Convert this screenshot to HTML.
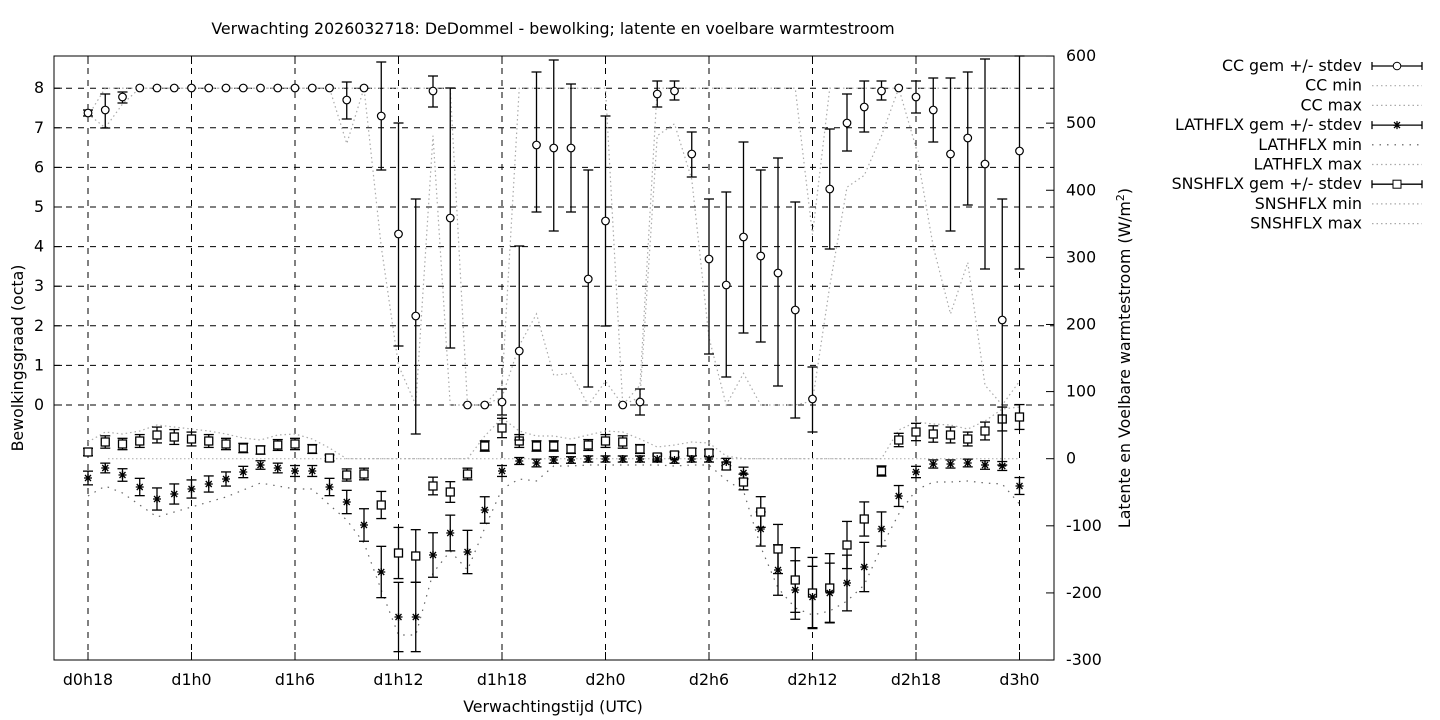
<!DOCTYPE html>
<html><head><meta charset="utf-8"><style>
html,body{margin:0;padding:0;background:#fff;}
svg{display:block;font-family:"DejaVu Sans","Liberation Sans",sans-serif;font-size:15.8px;}
</style></head><body>
<svg id="s" width="1440" height="720" xmlns="http://www.w3.org/2000/svg">
<text x="553" y="34" text-anchor="middle">Verwachting 2026032718: DeDommel - bewolking; latente en voelbare warmtestroom</text>
<text x="553" y="712" text-anchor="middle">Verwachtingstijd (UTC)</text>
<text transform="translate(23,358) rotate(-90)" text-anchor="middle">Bewolkingsgraad (octa)</text>
<text transform="translate(1130,358) rotate(-90)" text-anchor="middle">Latente en Voelbare warmtestroom (W/m<tspan dy="-6" font-size="11">2</tspan><tspan dy="6">)</tspan></text>
</svg>
<script>
const S=document.getElementById('s');const NS='http://www.w3.org/2000/svg';
function el(t,a,txt){const e=document.createElementNS(NS,t);for(const k in a)e.setAttribute(k,a[k]);if(txt!=null)e.textContent=txt;S.appendChild(e);return e;}
const L=54,R=1054,T=56,B=660;
const X=i=>88+17.25*i, YC=v=>405-v*39.6, YF=v=>458.7-v*0.6711;
for(let k=0;k<=8;k++){const y=YC(k);el('line',{x1:L,x2:R,y1:y,y2:y,stroke:'#000','stroke-dasharray':'6,6','stroke-width':1});
 el('line',{x1:L,x2:L+8,y1:y,y2:y,stroke:'#000'});el('text',{x:44,y:y+5,'text-anchor':'end'},k);}
const xl=['d0h18','d1h0','d1h6','d1h12','d1h18','d2h0','d2h6','d2h12','d2h18','d3h0'];
xl.forEach((t,j)=>{const x=X(j*6);el('line',{x1:x,x2:x,y1:T,y2:B,stroke:'#000','stroke-dasharray':'6,6'});
 el('line',{x1:x,x2:x,y1:B,y2:B-8,stroke:'#000'});el('line',{x1:x,x2:x,y1:T,y2:T+8,stroke:'#000'});
 el('text',{x:x,y:685,'text-anchor':'middle'},t);});
for(let v=-300;v<=600;v+=100){const y=YF(v);el('line',{x1:R,x2:R-8,y1:y,y2:y,stroke:'#000'});el('text',{x:1066,y:y+5},v);}
el('rect',{x:L,y:T,width:R-L,height:B-T,fill:'none',stroke:'#000'});
function poly(pts,st,dash){el('polyline',{points:pts.map(p=>p.join(',')).join(' '),fill:'none',stroke:st,'stroke-width':1.2,'stroke-dasharray':dash});}
const cc=[[113,110,116],[110,94,128],[97,92,103]];
for(let i=3;i<=14;i++)cc.push([88]);
cc.push([100,82,119],[88],[116,62,170],[234,123,346],[316,199,434],[91,76,107],[218,88,348],[405],[405],[402,389,415],
[351,246,440],[145,72,212],[148,60,231],[148,84,212],[279,170,387],[221,116,326],[405],[402,389,415],[94,81,107],[91,81,100],
[154,132,177],[259,199,354],[285,192,377],[237,142,333],[256,170,342],[273,158,386],[310,202,418],[399,367,432],[189,129,249],
[123,94,151],[107,81,132],[91,81,100],[88],[97,81,113],[110,78,142],[154,78,231],[138,72,205],[164,59,269],[320,199,465],[151,56,269]);
const ccmax=[7.3,8,8,8,8,8,8,8,8,8,8,8,8,8,8,8,8,8,8,8,8,8,0,0,0.5,8,8,8,8,8,8,0,0.5,8,8,8,8,8,8,8,8,8,4.3,8,8,8,8,8,8,8,8,8,8,8,8];
const ccmin=[7.35,7,7.6,8,8,8,8,8,8,8,8,8,8,8,8,6.6,8,4,1,0,6.8,0,0,0,0.2,1.5,2.3,0.75,0.8,0,0.6,0,0.2,6.8,7.1,5.7,1.7,0,0.8,0,0,0,0.1,3,5.5,5.8,6.8,8,6.5,4,2.3,3.6,0.5,0,0.6];
poly(ccmax.map((v,i)=>[X(i),YC(v)]),'#aaa','1.5,3');
poly(ccmin.map((v,i)=>[X(i),YC(v)]),'#aaa','1.5,3');
const sn=[452,442,444,441,435,437,439,441,444,448,450,445,444,449,458,475,474,505,553,556,486,492,474,446,428,441,446,446,449,445,441,442,449,457,455,452,453,466,482,512,549,580,593,588,545,519,471,440,432,434,435,439,431,419,417];
const la=[478,468,475,487,499,494,489,484,479,472,465,468,471,471,487,502,525,572,617,617,555,533,552,510,471,461,463,460,460,459,459,459,459,459,460,459,459,462,473,529,570,590,597,593,583,567,529,496,472,464,464,463,465,466,486];
poly(sn.map((y,i)=>[X(i),Math.min(y-10,458.7)]),'#aaa','1.5,3');
poly(la.map((y,i)=>[X(i),y+(y>460?18:6)]),'#666','1.5,6');
el('line',{x1:X(0)+20,x2:X(54),y1:458.7,y2:458.7,stroke:'#aaa','stroke-dasharray':'1.5,2.5'});
function ebar(x,t,b){el('line',{x1:x,x2:x,y1:t,y2:b,stroke:'#000','stroke-width':1.3});
 el('line',{x1:x-5,x2:x+5,y1:t,y2:t,stroke:'#000','stroke-width':1.3});el('line',{x1:x-5,x2:x+5,y1:b,y2:b,stroke:'#000','stroke-width':1.3});}
function star(x,y){el('path',{d:`M${x-4} ${y}H${x+4}M${x} ${y-4}V${y+4}M${x-3} ${y-3}L${x+3} ${y+3}M${x-3} ${y+3}L${x+3} ${y-3}`,stroke:'#000','stroke-width':1.3});}
const snE=sn.map(y=>Math.max(3,Math.abs(y-458.7)*0.25+2));
const laE=la.map(y=>Math.max(2,Math.abs(y-458.7)*0.2+3));
sn.forEach((y,i)=>ebar(X(i),y-snE[i],y+snE[i]));
la.forEach((y,i)=>ebar(X(i),y-laE[i],y+laE[i]));
sn.forEach((y,i)=>el('rect',{x:X(i)-4,y:y-4,width:8,height:8,fill:'#fff',stroke:'#000','stroke-width':1.3}));
la.forEach((y,i)=>star(X(i),y));
cc.forEach((p,i)=>{if(p.length>1)ebar(X(i),Math.max(T,p[1]),Math.min(B,p[2]));});
cc.forEach((p,i)=>el('circle',{cx:X(i),cy:p[0],r:3.8,fill:'#fff',stroke:'#000','stroke-width':1.2}));
const lg=[['CC gem +/- stdev','c'],['CC min','g'],['CC max','g'],['LATHFLX gem +/- stdev','s'],['LATHFLX min','d'],['LATHFLX max','g'],['SNSHFLX gem +/- stdev','q'],['SNSHFLX min','g'],['SNSHFLX max','g']];
lg.forEach((l,j)=>{const y=66+j*19.7;el('text',{x:1362,y:y+5,'text-anchor':'end'},l[0]);
 if('csq'.includes(l[1])){el('line',{x1:1372,x2:1422,y1:y,y2:y,stroke:'#000','stroke-width':1.3});
  el('line',{x1:1372,x2:1372,y1:y-4,y2:y+4,stroke:'#000','stroke-width':1.3});el('line',{x1:1422,x2:1422,y1:y-4,y2:y+4,stroke:'#000','stroke-width':1.3});
  if(l[1]=='c')el('circle',{cx:1397,cy:y,r:3.8,fill:'#fff',stroke:'#000'});
  if(l[1]=='s')star(1397,y);
  if(l[1]=='q')el('rect',{x:1393,y:y-4,width:8,height:8,fill:'#fff',stroke:'#000'});}
 else el('line',{x1:1372,x2:1422,y1:y,y2:y,stroke:l[1]=='d'?'#555':'#aaa','stroke-dasharray':l[1]=='d'?'1.5,6':'1.5,3','stroke-width':1.2});});
</script>
</body></html>
